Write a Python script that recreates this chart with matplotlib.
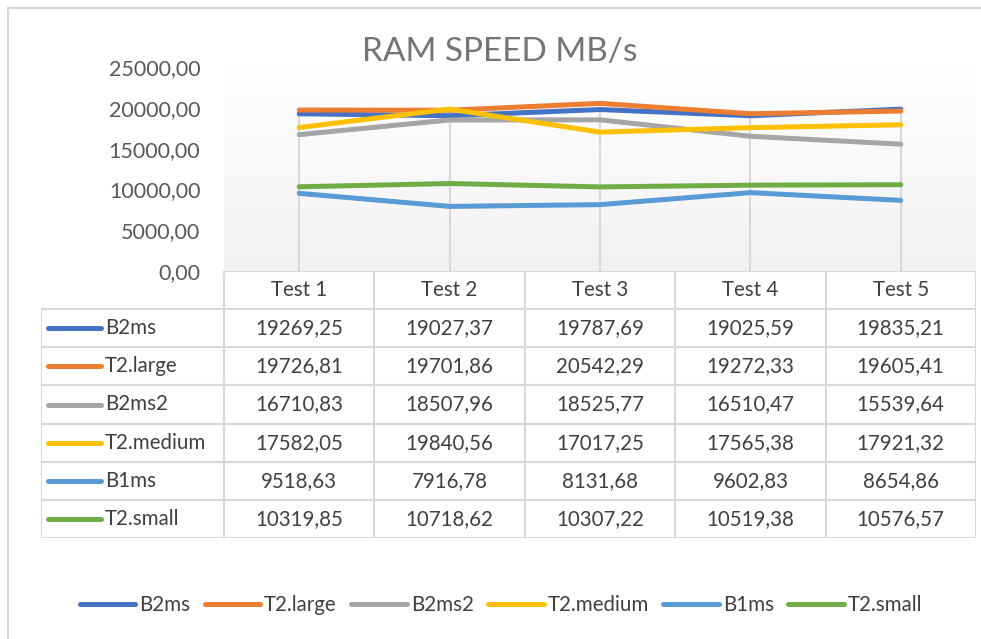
import numpy as np
import matplotlib.pyplot as plt
from matplotlib.lines import Line2D
from matplotlib.colors import LinearSegmentedColormap

plt.rcParams['font.family'] = ['Lato', 'DejaVu Sans']

# data
tests = ["Test 1", "Test 2", "Test 3", "Test 4", "Test 5"]
series_names = ["B2ms", "T2.large", "B2ms2", "T2.medium", "B1ms", "T2.small"]
b2ms = [19269.25, 19027.37, 19787.69, 19025.59, 19835.21]
t2_large = [19726.81, 19701.86, 20542.29, 19272.33, 19605.41]
b2ms2 = [16710.83, 18507.96, 18525.77, 16510.47, 15539.64]
t2_medium = [17582.05, 19840.56, 17017.25, 17565.38, 17921.32]
b1ms = [9518.63, 7916.78, 8131.68, 9602.83, 8654.86]
t2_small = [10319.85, 10718.62, 10307.22, 10519.38, 10576.57]
y_ticks = [0, 5000, 10000, 15000, 20000, 25000]

series = [b2ms, t2_large, b2ms2, t2_medium, b1ms, t2_small]
colors = ["#4472C4", "#ED7D31", "#A5A5A5", "#FFC000", "#5B9BD5", "#70AD47"]

W, H = 981, 639
fig = plt.figure(figsize=(W / 100, H / 100), dpi=100)


def px_axes(left, top, right, bottom):
    return fig.add_axes([left / W, 1 - bottom / H, (right - left) / W, (bottom - top) / H])


def fmt(v):
    return f"{v:.2f}".replace(".", ",")


# outer chart border (only top/left visible)
fig.add_artist(plt.Rectangle((8 / W, -0.1), 1.2, 1 - 8 / H + 0.1, transform=fig.transFigure,
                             fill=False, edgecolor="#D9D9D9", lw=1.5))

text_col = "#404040"
axis_col = "#595959"
fs = 14.8

# main plot
ax = px_axes(224, 67, 976, 271)
ax.set_xlim(0.5, 5.5)
ax.set_ylim(0, 25000)
grad = np.linspace(1, 0, 256).reshape(-1, 1)
ax.imshow(grad, extent=[0.5, 5.5, 0, 25000], aspect="auto",
          cmap=LinearSegmentedColormap.from_list("g", ["#F2F2F2", "#FFFFFF"]),
          zorder=0, origin="upper")
x = np.arange(1, len(tests) + 1)
# drop lines from the highest point to the axis
tops = np.max(np.array(series), axis=0)
ax.vlines(x, 0, tops, color="#D9D9D9", lw=1.5, zorder=1)
for name, vals, c in zip(series_names, series, colors):
    ax.plot(x, vals, color=c, lw=3.6, solid_capstyle="round", zorder=3, label=name)
for s in ax.spines.values():
    s.set_visible(False)
ax.set_xticks([])
ax.set_yticks(y_ticks)
ax.set_yticklabels([fmt(t) for t in y_ticks], fontsize=15.5, color=axis_col)
ax.tick_params(axis="y", length=0, pad=17)

fig.text(500 / W, 1 - 52 / H, "RAM SPEED MB/s", ha="center", va="center", fontsize=24, color="#757575")

# data table
tab = px_axes(41, 271, 976, 538)
tab.set_xlim(41, 976)
tab.set_ylim(538, 271)
tab.axis("off")
col_edges = np.linspace(224, 976, len(tests) + 1)
row_edges = np.linspace(271, 538, len(series) + 2)
line_kw = dict(color="#D9D9D9", lw=1.5)
tab.plot([224, 976], [row_edges[0]] * 2, **line_kw)
for ry in row_edges[1:]:
    tab.plot([41, 976], [ry, ry], **line_kw)
tab.plot([41, 41], [row_edges[1], row_edges[-1]], **line_kw)
for cx in col_edges:
    tab.plot([cx, cx], [row_edges[0], row_edges[-1]], **line_kw)
for j, t in enumerate(tests):
    tab.text((col_edges[j] + col_edges[j + 1]) / 2, (row_edges[0] + row_edges[1]) / 2, t,
             ha="center", va="center", fontsize=fs, color=text_col)
for i, (name, vals, c) in enumerate(zip(series_names, series, colors)):
    yc = (row_edges[i + 1] + row_edges[i + 2]) / 2
    tab.plot([48, 101], [yc, yc], color=c, lw=3.6, solid_capstyle="round")
    tab.text(105, yc, name, ha="left", va="center", fontsize=fs, color=text_col)
    for j, v in enumerate(vals):
        tab.text((col_edges[j] + col_edges[j + 1]) / 2, yc, fmt(v),
                 ha="center", va="center", fontsize=fs, color=text_col)

# bottom legend
handles = [Line2D([0], [0], color=c, lw=3.6, solid_capstyle="round") for c in colors]
leg = fig.legend(handles, series_names, loc="center", bbox_to_anchor=(501 / W, 1 - 605 / H), ncol=6,
                 frameon=False, fontsize=fs, handlelength=2.7, handletextpad=0.2, columnspacing=0.7)
for t in leg.get_texts():
    t.set_color(text_col)

fig.savefig("out.png", dpi=100)
